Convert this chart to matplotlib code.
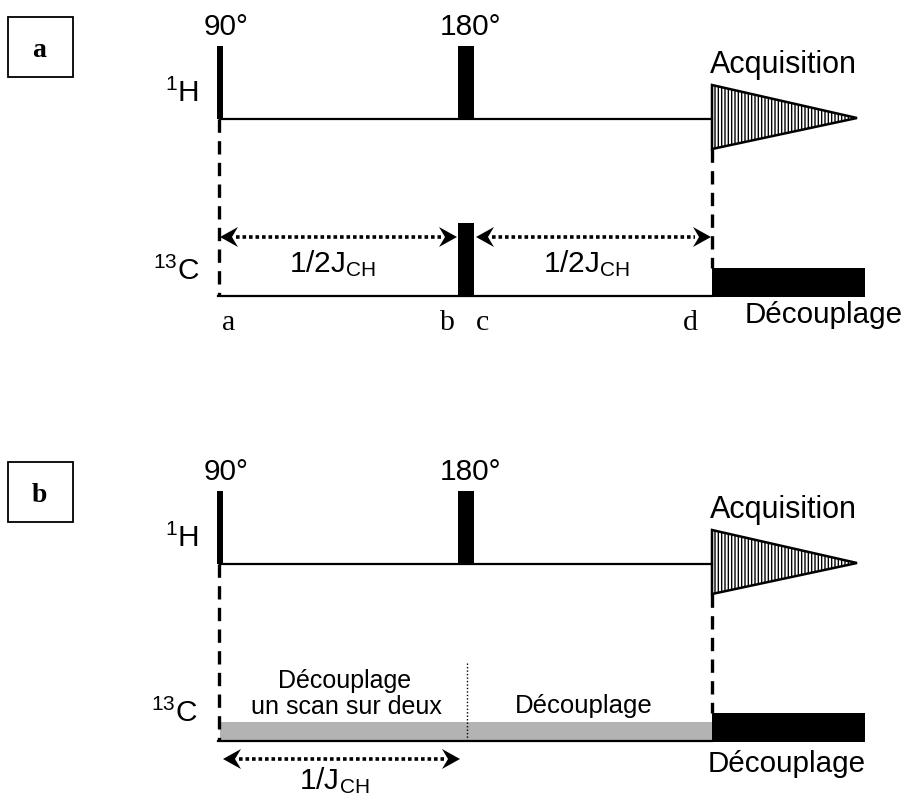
import matplotlib.pyplot as plt
from matplotlib.patches import Rectangle, Polygon

plt.rcParams['font.family'] = ['Liberation Sans', 'DejaVu Sans']
plt.rcParams['mathtext.fontset'] = 'custom'
plt.rcParams['mathtext.rm'] = 'Liberation Sans'
plt.rcParams['mathtext.it'] = 'Liberation Sans:italic'
plt.rcParams['hatch.linewidth'] = 1.0

# timing positions along the sequence (pixel units of the 904x798 page)
t_90 = 220
t_180 = 466
t_acq = 712
t_end = 865
t_tip = 857

# vertical layout of one panel (panel b is shifted down)
panel_names = ['a', 'b']
panel_shift = [0, 445]
y_pulse_top = 46
y_h = 119
y_c = 296

delay_letters = ['a', 'b', 'c', 'd']
delay_letter_x = [229, 447, 483, 690]

SANS = 21.5
SERIF = ['Liberation Serif', 'DejaVu Serif']

fig = plt.figure(figsize=(9.04, 7.98), dpi=100)
ax = fig.add_axes([0, 0, 1, 1])
ax.set_xlim(0, 904)
ax.set_ylim(798, 0)
ax.axis('off')


def dotted_arrow(x0, x1, y, head=18, half=10, notch=6):
    ax.plot([x0 + head - 2, x1 - head + 2], [y, y], color='black', lw=2.6,
            linestyle=(0, (1, 0.8)), solid_capstyle='butt')
    for tip, d in [(x0, -1), (x1, 1)]:
        pts = [(tip, y), (tip - d * head, y - half), (tip - d * (head - notch), y),
               (tip - d * head, y + half)]
        ax.add_patch(Polygon(pts, closed=True, color='black', lw=0))


def panel(name, dy):
    # label box
    ax.add_patch(Rectangle((8, 17 + dy), 65, 60, fill=False, lw=1.3, ec='black'))
    ax.text(39, 57 + dy, name, family=SERIF, weight='bold', fontsize=20,
            ha='center', va='baseline')

    # 1H channel
    ax.plot([t_90, t_acq], [y_h + dy, y_h + dy], color='black', lw=1.6)
    ax.add_patch(Rectangle((t_90 - 3, y_pulse_top + dy), 6, y_h - y_pulse_top, color='black', lw=0))
    ax.add_patch(Rectangle((t_180 - 8, y_pulse_top + dy), 16, y_h - y_pulse_top, color='black', lw=0))
    ax.text(226, 35 + dy, '90°', fontsize=SANS, ha='center', va='baseline')
    ax.text(471, 35 + dy, '180°', fontsize=SANS, ha='center', va='baseline')
    ax.text(199, 102 + dy, '$^{1}$H', fontsize=SANS, ha='right', va='baseline')

    # acquisition (FID)
    tri = Polygon([(t_acq, 85 + dy), (t_acq, 149 + dy), (t_tip, 118 + dy)], closed=True,
                  facecolor='white', edgecolor='black', lw=1.8, hatch='|||||')
    ax.add_patch(tri)
    ax.text(710, 73 + dy, 'Acquisition', fontsize=22, ha='left', va='baseline')

    # dashed guides
    ax.plot([t_90 - 1, t_90 - 1], [y_h + dy, y_c + dy], color='black', lw=2.4,
            linestyle=(0, (4, 2.5)))
    ax.plot([t_acq, t_acq], [149 + dy, 268 + dy], color='black', lw=2.4,
            linestyle=(0, (4, 2.5)))

    # 13C decoupling during acquisition
    ax.add_patch(Rectangle((t_acq, 268 + dy), t_end - t_acq, 29, color='black', lw=0))


panel('a', panel_shift[0])
panel('b', panel_shift[1])

# ---- panel a : 13C channel
dy = panel_shift[0]
ax.plot([t_90 - 2, t_acq], [y_c + dy, y_c + dy], color='black', lw=1.6)
ax.add_patch(Rectangle((t_180 - 8, 223 + dy), 16, y_c - 223, color='black', lw=0))
ax.text(200, 280 + dy, '$^{13}$C', fontsize=SANS, ha='right', va='baseline')
dotted_arrow(220, 457, 237 + dy)
dotted_arrow(476, 711, 237 + dy)
ax.text(333, 272 + dy, '1/2J$_{\\mathrm{CH}}$', fontsize=SANS, ha='center', va='baseline')
ax.text(587, 272 + dy, '1/2J$_{\\mathrm{CH}}$', fontsize=SANS, ha='center', va='baseline')
for lab, xl in zip(delay_letters, delay_letter_x):
    ax.text(xl, 330 + dy, lab, family=SERIF, fontsize=21.5, ha='center', va='baseline')
ax.text(745, 323 + dy, 'Découplage', fontsize=21.3, ha='left', va='baseline')

# ---- panel b : 13C channel with gated decoupling
dy = panel_shift[1]
ax.add_patch(Rectangle((t_90, 277 + dy), t_acq - t_90, 19, color='#b3b3b3', lw=0))
ax.plot([t_90 - 2, t_acq], [y_c + dy, y_c + dy], color='black', lw=1.6)
ax.plot([t_180 + 1, t_180 + 1], [218 + dy, y_c + dy], color='black', lw=1.0,
        linestyle=(0, (1, 1.5)))
ax.text(198, 277 + dy, '$^{13}$C', fontsize=SANS, ha='right', va='baseline')
ax.text(345, 243 + dy, 'Découplage', fontsize=18, ha='center', va='baseline')
ax.text(346, 269 + dy, 'un scan sur deux', fontsize=18, ha='center', va='baseline')
ax.text(584, 268 + dy, 'Découplage', fontsize=18.5, ha='center', va='baseline')
dotted_arrow(223, 460, 314 + dy)
ax.text(334, 344 + dy, '1/J$_{\\mathrm{CH}}$', fontsize=SANS, ha='center', va='baseline')
ax.text(708, 327 + dy, 'Découplage', fontsize=21.3, ha='left', va='baseline')

fig.savefig('out.png', dpi=100)
